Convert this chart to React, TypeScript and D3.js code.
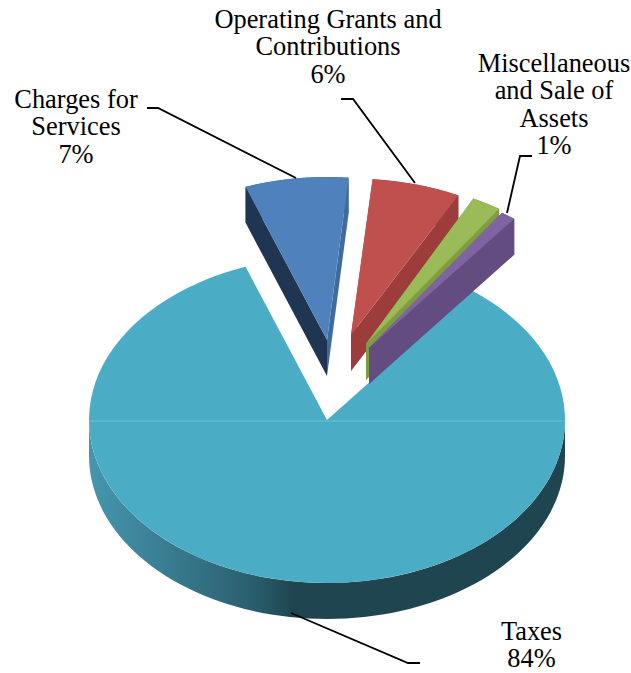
import React from "react";
import * as d3 from "d3";

// Revenue shares, in percent, clockwise from the Taxes slice
const sliceNames = ["Taxes", "Charges for Services", "Operating Grants and Contributions", "Sale of Assets", "Miscellaneous"];
const sliceValues = [84, 7, 6, 2, 1];
const topColors = ["#4bacc6", "#4f81bd", "#c0504d", "#9bbb59", "#8064a2"];
const wallColors = ["url(#rimShade)", "#1f3552", "#9c3d3b", "#7f9c41", "#624c80"];
const endWallColors = ["url(#rimShade)", "#3f6c9f", "#9c3d3b", "#7f9c41", "#624c80"];
const pullX = [0, 0, 24, 39, 42];
const pullY = [0, -80, -85, -76, -72];
const flatten = [1, 1, 0.96, 1, 1];

const labels = [
  { lines: ["Charges for", "Services", "7%"], x: 76, y: 108 },
  { lines: ["Operating Grants and", "Contributions", "6%"], x: 328, y: 28 },
  { lines: ["Miscellaneous", "and Sale of", "Assets", "1%"], x: 554, y: 72 },
  { lines: ["Taxes", "84%"], x: 531.5, y: 639.6 },
];
const leaders = [
  [[147, 108], [158, 108], [296, 178]],
  [[341, 99], [353, 99], [415, 183]],
  [[532, 156], [520, 156], [507, 213]],
  [[291, 613], [408, 663], [420, 663]],
];

const cx = 327;
const cy = 420;
const rx = 238;
const ry = 163;
const depth = 36;
const lineHeight = 27.4;

const firstAngle = (37.6 * Math.PI) / 180;
const pie = d3.pie<number>().sort(null).startAngle(firstAngle).endAngle(firstAngle + 2 * Math.PI);
const arcs = pie(sliceValues);
const topArc = d3.arc<d3.PieArcDatum<number>>().innerRadius(0).outerRadius(rx);
const outline = d3.line<[number, number]>();

const onRim = (angle: number, squash: number): [number, number] => [rx * Math.sin(angle), -ry * squash * Math.cos(angle)];

// Side wall below a straight cut running out from the centre to the rim
function cutWall(angle: number, squash: number): string {
  const [x, y] = onRim(angle, squash);
  return outline([[0, 0], [x, y], [x, y + depth], [0, depth]]) + "Z";
}

// Curved wall below the rim between two angles
function rimWall(from: number, to: number, squash: number): string {
  const angles = d3.range(0, 81).map((i) => from + ((to - from) * i) / 80);
  const upper = angles.map((a) => onRim(a, squash));
  const lower = angles.slice().reverse().map((a): [number, number] => {
    const [x, y] = onRim(a, squash);
    return [x, y + depth];
  });
  return outline([...upper, ...lower]) + "Z";
}

export default function App() {
  return (
    <svg
      width={631}
      height={673}
      viewBox="0 0 631 673"
      style={{ position: "absolute", left: 0, top: 0, display: "block", background: "#fff" }}
    >
      <defs>
        <linearGradient id="rimShade" gradientUnits="userSpaceOnUse" x1={-rx} x2={rx} y1={0} y2={0}>
          <stop offset="0" stopColor="#4596ae" />
          <stop offset="0.18" stopColor="#387a8e" />
          <stop offset="0.34" stopColor="#2a5f6f" />
          <stop offset="0.43" stopColor="#1f4650" />
          <stop offset="1" stopColor="#1f4650" />
        </linearGradient>
      </defs>

      {arcs.map((slice, i) => {
        const main = i === 0;
        const squash = flatten[i];
        return (
          <g key={sliceNames[i]} transform={`translate(${cx + pullX[i]},${cy + pullY[i]})`}>
            {main ? (
              <path d={rimWall(Math.PI / 2, (3 * Math.PI) / 2, squash)} fill={wallColors[i]} />
            ) : (
              <>
                <path d={rimWall(slice.startAngle, slice.endAngle, squash)} fill={endWallColors[i]} />
                <path d={cutWall(slice.endAngle, squash)} fill={endWallColors[i]} />
                <path d={cutWall(slice.startAngle, squash)} fill={wallColors[i]} />
              </>
            )}
            <path d={topArc(slice) ?? ""} transform={`scale(1,${(ry * squash) / rx})`} fill={topColors[i]} />
          </g>
        );
      })}
      <line x1={cx - rx} x2={cx + rx} y1={cy + 1} y2={cy + 1} stroke="#6cbfd5" strokeWidth={1} />

      {leaders.map((points, i) => (
        <path key={i} d={outline(points as [number, number][]) ?? ""} fill="none" stroke="#000" strokeWidth={1.8} />
      ))}

      {labels.map((label) => (
        <text
          key={label.lines[0]}
          textAnchor="middle"
          fontFamily="'Liberation Serif', serif"
          fontSize={26.4}
          fill="#000"
        >
          {label.lines.map((line, i) => (
            <tspan key={line} x={label.x} y={label.y + i * lineHeight}>
              {line}
            </tspan>
          ))}
        </text>
      ))}
    </svg>
  );
}
